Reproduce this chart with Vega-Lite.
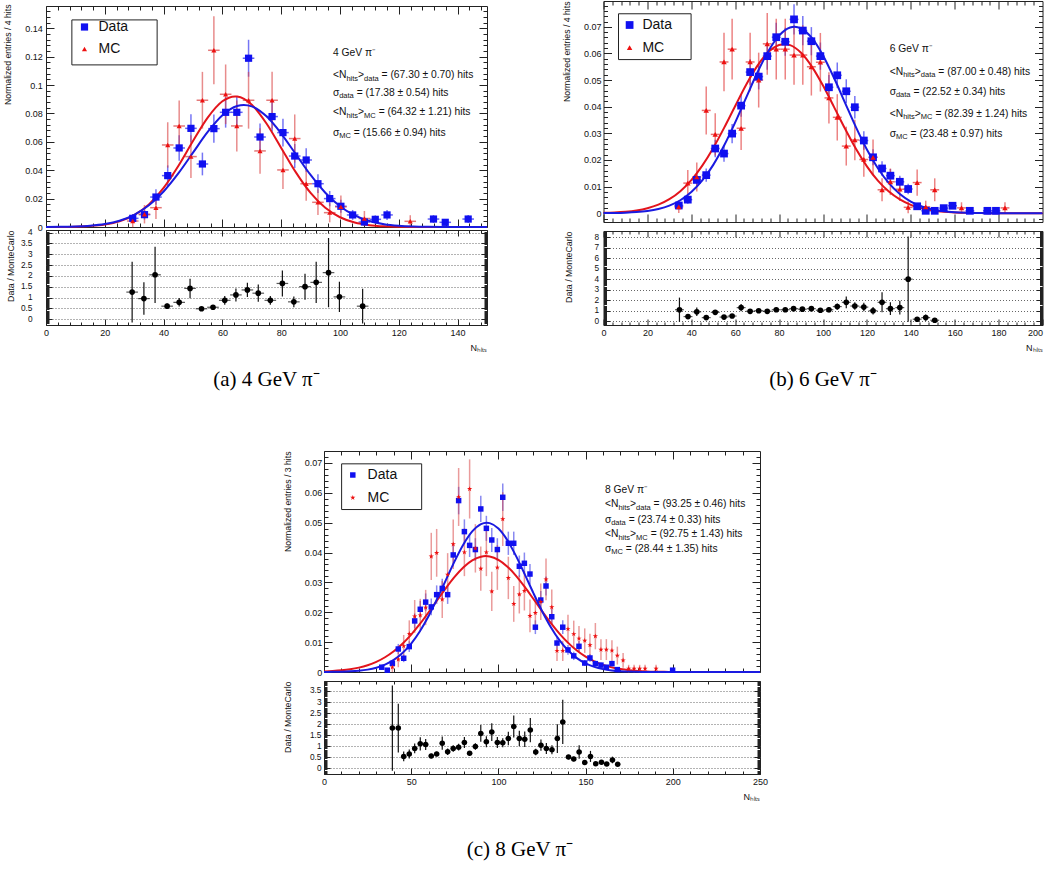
{
"$schema":"https://vega.github.io/schema/vega-lite/v6.json",
"background":"white",
"padding":{"left":2,"top":0,"right":0,"bottom":0},
"config":{
 "view":{"stroke":"#222","strokeWidth":1},
 "axis":{"labelFont":"Liberation Sans","titleFont":"Liberation Sans","labelColor":"#111","titleColor":"#111","tickColor":"#222","labelFontSize":9,"titleFontWeight":"normal","labelFlush":false,"labelOverlap":false,"domain":false,"grid":false,"tickWidth":1},
 "text":{"font":"Liberation Sans","fontSize":10.3,"align":"left","baseline":"middle","color":"#111"},
 "legend":{"labelFont":"Liberation Sans","labelFontSize":14,"labelColor":"#111"},
 "title":{"font":"Liberation Serif","fontSize":21,"fontWeight":"normal","color":"#000"}
},
"datasets":{
"aPts":[
{"s":"Data","x":29.5,"y":0.0061,"e":0.003},{"s":"Data","x":33.5,"y":0.0087,"e":0.0035},{"s":"Data","x":37.4,"y":0.0211,"e":0.0055},{"s":"Data","x":41.4,"y":0.0362,"e":0.0072},{"s":"Data","x":45.3,"y":0.0557,"e":0.009},{"s":"Data","x":49.3,"y":0.0695,"e":0.01},{"s":"Data","x":53.2,"y":0.0444,"e":0.008},{"s":"Data","x":57.1,"y":0.0693,"e":0.01},{"s":"Data","x":61.1,"y":0.0808,"e":0.0108},{"s":"Data","x":64.9,"y":0.0808,"e":0.0108},{"s":"Data","x":68.9,"y":0.1189,"e":0.013},{"s":"Data","x":72.8,"y":0.0634,"e":0.0096},{"s":"Data","x":76.9,"y":0.0778,"e":0.0106},{"s":"Data","x":80.6,"y":0.0665,"e":0.0098},{"s":"Data","x":84.6,"y":0.05,"e":0.0085},{"s":"Data","x":88.5,"y":0.0472,"e":0.0083},{"s":"Data","x":92.5,"y":0.0305,"e":0.0066},{"s":"Data","x":96.5,"y":0.02,"e":0.0054},{"s":"Data","x":100.3,"y":0.0146,"e":0.0046},{"s":"Data","x":104.3,"y":0.0085,"e":0.0035},{"s":"Data","x":108.3,"y":0.0035,"e":0.0022},{"s":"Data","x":112.0,"y":0.0054,"e":0.0028},{"s":"Data","x":116.0,"y":0.0085,"e":0.0035},{"s":"Data","x":131.8,"y":0.0056,"e":0.0028},{"s":"Data","x":135.8,"y":0.0033,"e":0.0022},{"s":"Data","x":143.6,"y":0.0056,"e":0.0028},
{"s":"MC","x":29.5,"y":0.0042,"e":0.0044},{"s":"MC","x":33.5,"y":0.009,"e":0.0065},{"s":"MC","x":37.4,"y":0.0136,"e":0.008},{"s":"MC","x":41.4,"y":0.0578,"e":0.016},{"s":"MC","x":45.3,"y":0.0712,"e":0.018},{"s":"MC","x":49.3,"y":0.0496,"e":0.015},{"s":"MC","x":53.2,"y":0.0893,"e":0.02},{"s":"MC","x":57.1,"y":0.1245,"e":0.024},{"s":"MC","x":61.1,"y":0.0935,"e":0.021},{"s":"MC","x":64.9,"y":0.0712,"e":0.018},{"s":"MC","x":68.9,"y":0.0893,"e":0.02},{"s":"MC","x":72.8,"y":0.0536,"e":0.016},{"s":"MC","x":76.9,"y":0.0893,"e":0.02},{"s":"MC","x":80.6,"y":0.0402,"e":0.0135},{"s":"MC","x":84.6,"y":0.0623,"e":0.017},{"s":"MC","x":88.5,"y":0.0305,"e":0.012},{"s":"MC","x":92.5,"y":0.0174,"e":0.009},{"s":"MC","x":96.5,"y":0.0101,"e":0.0068},{"s":"MC","x":100.3,"y":0.0142,"e":0.008},{"s":"MC","x":108.3,"y":0.006,"e":0.0053},{"s":"MC","x":123.9,"y":0.004,"e":0.0043}
],
"aFit":[
{"s":"Data","x":0,"y":0.00005},{"s":"Data","x":5,"y":0.00014},{"s":"Data","x":10,"y":0.00038},{"s":"Data","x":15,"y":0.00093},{"s":"Data","x":20,"y":0.00212},{"s":"Data","x":25,"y":0.00445},{"s":"Data","x":30,"y":0.00859},{"s":"Data","x":35,"y":0.01529},{"s":"Data","x":40,"y":0.02504},{"s":"Data","x":45,"y":0.03776},{"s":"Data","x":50,"y":0.0524},{"s":"Data","x":55,"y":0.06695},{"s":"Data","x":60,"y":0.07874},{"s":"Data","x":65,"y":0.08525},{"s":"Data","x":67.3,"y":0.086},{"s":"Data","x":70,"y":0.08497},{"s":"Data","x":75,"y":0.07797},{"s":"Data","x":80,"y":0.06585},{"s":"Data","x":85,"y":0.0512},{"s":"Data","x":90,"y":0.03665},{"s":"Data","x":95,"y":0.02415},{"s":"Data","x":100,"y":0.01465},{"s":"Data","x":105,"y":0.00818},{"s":"Data","x":110,"y":0.00421},{"s":"Data","x":115,"y":0.00199},{"s":"Data","x":120,"y":0.00087},{"s":"Data","x":125,"y":0.00035},{"s":"Data","x":130,"y":0.00013},{"s":"Data","x":135,"y":0.00004},{"s":"Data","x":140,"y":0.00001},{"s":"Data","x":145,"y":0},{"s":"Data","x":150,"y":0},
{"s":"MC","x":0,"y":0.00002},{"s":"MC","x":5,"y":0.00007},{"s":"MC","x":10,"y":0.00022},{"s":"MC","x":15,"y":0.00065},{"s":"MC","x":20,"y":0.00168},{"s":"MC","x":25,"y":0.00393},{"s":"MC","x":30,"y":0.00833},{"s":"MC","x":35,"y":0.01594},{"s":"MC","x":40,"y":0.02754},{"s":"MC","x":45,"y":0.04298},{"s":"MC","x":50,"y":0.06056},{"s":"MC","x":55,"y":0.07707},{"s":"MC","x":60,"y":0.08857},{"s":"MC","x":64.3,"y":0.092},{"s":"MC","x":65,"y":0.09191},{"s":"MC","x":70,"y":0.08614},{"s":"MC","x":75,"y":0.07291},{"s":"MC","x":80,"y":0.05573},{"s":"MC","x":85,"y":0.03846},{"s":"MC","x":90,"y":0.02398},{"s":"MC","x":95,"y":0.0135},{"s":"MC","x":100,"y":0.00687},{"s":"MC","x":105,"y":0.00315},{"s":"MC","x":110,"y":0.00131},{"s":"MC","x":115,"y":0.00049},{"s":"MC","x":120,"y":0.00017},{"s":"MC","x":125,"y":0.00005},{"s":"MC","x":130,"y":0.00001},{"s":"MC","x":140,"y":0},{"s":"MC","x":150,"y":0}
],
"aRat":[
{"x":29.3,"r":1.25,"e":1.4},{"x":33.3,"r":0.95,"e":0.75},{"x":37.1,"r":2.05,"e":1.3},{"x":41.2,"r":0.6,"e":0.12},{"x":45.3,"r":0.78,"e":0.2},{"x":49.0,"r":1.42,"e":0.45},{"x":52.9,"r":0.48,"e":0.08},{"x":56.8,"r":0.55,"e":0.08},{"x":60.8,"r":0.87,"e":0.2},{"x":64.6,"r":1.12,"e":0.3},{"x":68.5,"r":1.35,"e":0.33},{"x":72.2,"r":1.2,"e":0.4},{"x":76.3,"r":0.87,"e":0.2},{"x":80.4,"r":1.65,"e":0.6},{"x":84.3,"r":0.8,"e":0.25},{"x":88.1,"r":1.5,"e":0.6},{"x":91.9,"r":1.7,"e":0.95},{"x":96.1,"r":2.15,"e":1.6},{"x":99.8,"r":1.03,"e":0.7},{"x":107.7,"r":0.6,"e":0.8}
],
"bPts":[
{"s":"Data","x":34.3,"y":0.0029,"e":0.0011},{"s":"Data","x":38.4,"y":0.0051,"e":0.0015},{"s":"Data","x":42.5,"y":0.0125,"e":0.0023},{"s":"Data","x":46.8,"y":0.0143,"e":0.0025},{"s":"Data","x":50.9,"y":0.0243,"e":0.0033},{"s":"Data","x":54.9,"y":0.0224,"e":0.0031},{"s":"Data","x":58.6,"y":0.0299,"e":0.0036},{"s":"Data","x":62.7,"y":0.0404,"e":0.0042},{"s":"Data","x":66.8,"y":0.053,"e":0.0048},{"s":"Data","x":70.7,"y":0.0513,"e":0.0048},{"s":"Data","x":74.6,"y":0.059,"e":0.0051},{"s":"Data","x":78.7,"y":0.0661,"e":0.0054},{"s":"Data","x":82.8,"y":0.0644,"e":0.0053},{"s":"Data","x":86.8,"y":0.0728,"e":0.0057},{"s":"Data","x":90.8,"y":0.0686,"e":0.0055},{"s":"Data","x":94.7,"y":0.0646,"e":0.0053},{"s":"Data","x":98.8,"y":0.059,"e":0.0051},{"s":"Data","x":102.7,"y":0.0473,"e":0.0046},{"s":"Data","x":106.5,"y":0.0518,"e":0.0048},{"s":"Data","x":110.6,"y":0.0458,"e":0.0045},{"s":"Data","x":114.5,"y":0.0398,"e":0.0042},{"s":"Data","x":118.6,"y":0.0273,"e":0.0035},{"s":"Data","x":122.8,"y":0.021,"e":0.003},{"s":"Data","x":126.9,"y":0.0168,"e":0.0027},{"s":"Data","x":130.7,"y":0.0141,"e":0.0025},{"s":"Data","x":135.0,"y":0.0118,"e":0.0023},{"s":"Data","x":138.8,"y":0.0091,"e":0.002},{"s":"Data","x":142.9,"y":0.0026,"e":0.0011},{"s":"Data","x":146.8,"y":0.0009,"e":0.0006},{"s":"Data","x":150.9,"y":0.0009,"e":0.0006},{"s":"Data","x":155.0,"y":0.0019,"e":0.0009},{"s":"Data","x":159.0,"y":0.0028,"e":0.0011},{"s":"Data","x":166.9,"y":0.0009,"e":0.0006},{"s":"Data","x":174.9,"y":0.0009,"e":0.0006},{"s":"Data","x":178.8,"y":0.0009,"e":0.0006},
{"s":"MC","x":34.3,"y":0.0024,"e":0.0023},{"s":"MC","x":38.4,"y":0.0113,"e":0.0049},{"s":"MC","x":42.5,"y":0.0136,"e":0.0054},{"s":"MC","x":46.8,"y":0.0386,"e":0.009},{"s":"MC","x":50.9,"y":0.0296,"e":0.0079},{"s":"MC","x":54.9,"y":0.0568,"e":0.011},{"s":"MC","x":58.6,"y":0.0616,"e":0.0114},{"s":"MC","x":62.7,"y":0.0319,"e":0.0082},{"s":"MC","x":66.8,"y":0.0568,"e":0.011},{"s":"MC","x":70.7,"y":0.05,"e":0.0103},{"s":"MC","x":74.6,"y":0.0636,"e":0.0116},{"s":"MC","x":78.7,"y":0.0616,"e":0.0114},{"s":"MC","x":82.8,"y":0.0616,"e":0.0114},{"s":"MC","x":86.8,"y":0.0594,"e":0.0112},{"s":"MC","x":90.8,"y":0.0594,"e":0.0112},{"s":"MC","x":94.7,"y":0.055,"e":0.0108},{"s":"MC","x":98.8,"y":0.0567,"e":0.011},{"s":"MC","x":102.7,"y":0.0433,"e":0.0096},{"s":"MC","x":106.5,"y":0.036,"e":0.0087},{"s":"MC","x":110.6,"y":0.0252,"e":0.0073},{"s":"MC","x":114.5,"y":0.0275,"e":0.0076},{"s":"MC","x":118.6,"y":0.0202,"e":0.0065},{"s":"MC","x":122.8,"y":0.021,"e":0.0067},{"s":"MC","x":126.9,"y":0.0088,"e":0.0043},{"s":"MC","x":130.7,"y":0.0118,"e":0.005},{"s":"MC","x":135.0,"y":0.009,"e":0.0044},{"s":"MC","x":138.8,"y":0.0022,"e":0.0022},{"s":"MC","x":142.9,"y":0.0115,"e":0.0049},{"s":"MC","x":146.8,"y":0.0024,"e":0.0023},{"s":"MC","x":150.9,"y":0.0088,"e":0.0043},{"s":"MC","x":163.1,"y":0.002,"e":0.0021},{"s":"MC","x":182.9,"y":0.002,"e":0.0021}
],
"bFit":[
{"s":"Data","x":0,"y":0.00004},{"s":"Data","x":5,"y":0.00009},{"s":"Data","x":10,"y":0.0002},{"s":"Data","x":15,"y":0.00042},{"s":"Data","x":20,"y":0.00084},{"s":"Data","x":25,"y":0.00158},{"s":"Data","x":30,"y":0.00284},{"s":"Data","x":35,"y":0.00487},{"s":"Data","x":40,"y":0.00793},{"s":"Data","x":45,"y":0.0123},{"s":"Data","x":50,"y":0.01815},{"s":"Data","x":55,"y":0.0255},{"s":"Data","x":60,"y":0.03412},{"s":"Data","x":65,"y":0.04344},{"s":"Data","x":70,"y":0.05264},{"s":"Data","x":75,"y":0.06073},{"s":"Data","x":80,"y":0.0667},{"s":"Data","x":85,"y":0.06973},{"s":"Data","x":87,"y":0.07},{"s":"Data","x":90,"y":0.06938},{"s":"Data","x":95,"y":0.06572},{"s":"Data","x":100,"y":0.05925},{"s":"Data","x":105,"y":0.05086},{"s":"Data","x":110,"y":0.04155},{"s":"Data","x":115,"y":0.03232},{"s":"Data","x":120,"y":0.02393},{"s":"Data","x":125,"y":0.01686},{"s":"Data","x":130,"y":0.0113},{"s":"Data","x":135,"y":0.00722},{"s":"Data","x":140,"y":0.00439},{"s":"Data","x":145,"y":0.00254},{"s":"Data","x":150,"y":0.0014},{"s":"Data","x":155,"y":0.00073},{"s":"Data","x":160,"y":0.00037},{"s":"Data","x":165,"y":0.00017},{"s":"Data","x":170,"y":0.00008},{"s":"Data","x":175,"y":0.00003},{"s":"Data","x":180,"y":0.00001},{"s":"Data","x":190,"y":0},{"s":"Data","x":200,"y":0},
{"s":"MC","x":0,"y":0.00013},{"s":"MC","x":5,"y":0.00028},{"s":"MC","x":10,"y":0.00055},{"s":"MC","x":15,"y":0.00103},{"s":"MC","x":20,"y":0.00186},{"s":"MC","x":25,"y":0.0032},{"s":"MC","x":30,"y":0.00527},{"s":"MC","x":35,"y":0.00829},{"s":"MC","x":40,"y":0.01245},{"s":"MC","x":45,"y":0.01788},{"s":"MC","x":50,"y":0.02451},{"s":"MC","x":55,"y":0.03214},{"s":"MC","x":60,"y":0.04028},{"s":"MC","x":65,"y":0.04826},{"s":"MC","x":70,"y":0.05524},{"s":"MC","x":75,"y":0.06042},{"s":"MC","x":80,"y":0.06317},{"s":"MC","x":82.4,"y":0.0635},{"s":"MC","x":85,"y":0.06311},{"s":"MC","x":90,"y":0.06025},{"s":"MC","x":95,"y":0.05497},{"s":"MC","x":100,"y":0.04793},{"s":"MC","x":105,"y":0.03994},{"s":"MC","x":110,"y":0.0318},{"s":"MC","x":115,"y":0.02419},{"s":"MC","x":120,"y":0.0176},{"s":"MC","x":125,"y":0.01222},{"s":"MC","x":130,"y":0.00812},{"s":"MC","x":135,"y":0.00516},{"s":"MC","x":140,"y":0.00313},{"s":"MC","x":145,"y":0.00181},{"s":"MC","x":150,"y":0.001},{"s":"MC","x":155,"y":0.00053},{"s":"MC","x":160,"y":0.00027},{"s":"MC","x":165,"y":0.00013},{"s":"MC","x":170,"y":0.00006},{"s":"MC","x":175,"y":0.00003},{"s":"MC","x":180,"y":0.00001},{"s":"MC","x":190,"y":0},{"s":"MC","x":200,"y":0}
],
"bRat":[
{"x":34.6,"r":1.1,"e":1.15},{"x":38.5,"r":0.45,"e":0.15},{"x":42.5,"r":0.9,"e":0.4},{"x":46.8,"r":0.35,"e":0.1},{"x":50.9,"r":0.85,"e":0.2},{"x":54.9,"r":0.4,"e":0.1},{"x":58.6,"r":0.5,"e":0.15},{"x":62.7,"r":1.3,"e":0.35},{"x":66.8,"r":0.95,"e":0.15},{"x":70.7,"r":1.0,"e":0.15},{"x":74.6,"r":0.95,"e":0.15},{"x":78.7,"r":1.1,"e":0.2},{"x":82.8,"r":1.1,"e":0.15},{"x":86.6,"r":1.2,"e":0.2},{"x":90.6,"r":1.15,"e":0.2},{"x":94.7,"r":1.2,"e":0.2},{"x":98.8,"r":1.05,"e":0.2},{"x":102.7,"r":1.1,"e":0.25},{"x":106.5,"r":1.4,"e":0.3},{"x":110.6,"r":1.8,"e":0.55},{"x":114.5,"r":1.45,"e":0.35},{"x":118.6,"r":1.35,"e":0.4},{"x":122.8,"r":1.0,"e":0.35},{"x":126.9,"r":1.8,"e":0.95},{"x":130.7,"r":1.2,"e":0.6},{"x":135.0,"r":1.3,"e":0.65},{"x":138.8,"r":4.0,"e":4.05},{"x":142.9,"r":0.2,"e":0.15},{"x":146.8,"r":0.35,"e":0.3},{"x":150.9,"r":0.1,"e":0.1}
],
"cPts":[
{"s":"Data","x":33.1,"y":0.0016,"e":0.0008},{"s":"Data","x":36.3,"y":0.0006,"e":0.0005},{"s":"Data","x":39.2,"y":0.0029,"e":0.001},{"s":"Data","x":42.6,"y":0.0077,"e":0.0017},{"s":"Data","x":45.7,"y":0.0046,"e":0.0013},{"s":"Data","x":48.9,"y":0.0085,"e":0.0018},{"s":"Data","x":52.0,"y":0.0171,"e":0.0025},{"s":"Data","x":55.2,"y":0.021,"e":0.0028},{"s":"Data","x":58.3,"y":0.0234,"e":0.0029},{"s":"Data","x":61.5,"y":0.0218,"e":0.0028},{"s":"Data","x":64.6,"y":0.0259,"e":0.0031},{"s":"Data","x":67.8,"y":0.028,"e":0.0032},{"s":"Data","x":70.9,"y":0.0259,"e":0.0031},{"s":"Data","x":74.1,"y":0.0392,"e":0.0038},{"s":"Data","x":77.2,"y":0.0574,"e":0.0046},{"s":"Data","x":80.5,"y":0.047,"e":0.0041},{"s":"Data","x":83.5,"y":0.0424,"e":0.0039},{"s":"Data","x":86.8,"y":0.041,"e":0.0038},{"s":"Data","x":89.9,"y":0.0546,"e":0.0044},{"s":"Data","x":93.1,"y":0.0481,"e":0.0042},{"s":"Data","x":96.2,"y":0.0442,"e":0.004},{"s":"Data","x":99.4,"y":0.041,"e":0.0038},{"s":"Data","x":102.5,"y":0.0585,"e":0.0046},{"s":"Data","x":105.7,"y":0.0431,"e":0.0039},{"s":"Data","x":108.8,"y":0.0431,"e":0.0039},{"s":"Data","x":112.0,"y":0.0354,"e":0.0036},{"s":"Data","x":114.9,"y":0.0364,"e":0.0036},{"s":"Data","x":118.1,"y":0.0328,"e":0.0034},{"s":"Data","x":121.2,"y":0.015,"e":0.0023},{"s":"Data","x":124.3,"y":0.0241,"e":0.003},{"s":"Data","x":127.3,"y":0.0288,"e":0.0032},{"s":"Data","x":130.6,"y":0.0185,"e":0.0026},{"s":"Data","x":133.6,"y":0.0097,"e":0.0019},{"s":"Data","x":136.9,"y":0.015,"e":0.0023},{"s":"Data","x":139.9,"y":0.0074,"e":0.0016},{"s":"Data","x":143.2,"y":0.0054,"e":0.0014},{"s":"Data","x":146.2,"y":0.0086,"e":0.0018},{"s":"Data","x":149.5,"y":0.003,"e":0.001},{"s":"Data","x":152.5,"y":0.0047,"e":0.0013},{"s":"Data","x":155.6,"y":0.0028,"e":0.001},{"s":"Data","x":158.8,"y":0.0023,"e":0.0009},{"s":"Data","x":161.9,"y":0.0016,"e":0.0008},{"s":"Data","x":165.1,"y":0.0028,"e":0.001},{"s":"Data","x":168.2,"y":0.0008,"e":0.0005},{"s":"Data","x":199.9,"y":0.0006,"e":0.0005},
{"s":"MC","x":39.2,"y":0.0016,"e":0.0016},{"s":"MC","x":42.6,"y":0.0042,"e":0.0026},{"s":"MC","x":45.7,"y":0.0087,"e":0.0037},{"s":"MC","x":48.9,"y":0.0128,"e":0.0045},{"s":"MC","x":52.0,"y":0.0186,"e":0.0055},{"s":"MC","x":55.2,"y":0.019,"e":0.0055},{"s":"MC","x":58.3,"y":0.0216,"e":0.0059},{"s":"MC","x":61.5,"y":0.0387,"e":0.0079},{"s":"MC","x":64.6,"y":0.0399,"e":0.008},{"s":"MC","x":67.8,"y":0.0243,"e":0.0062},{"s":"MC","x":70.9,"y":0.0326,"e":0.0072},{"s":"MC","x":74.1,"y":0.0428,"e":0.0083},{"s":"MC","x":77.2,"y":0.0586,"e":0.0097},{"s":"MC","x":80.5,"y":0.0401,"e":0.008},{"s":"MC","x":83.5,"y":0.0613,"e":0.0099},{"s":"MC","x":86.8,"y":0.0414,"e":0.0081},{"s":"MC","x":89.9,"y":0.0346,"e":0.0074},{"s":"MC","x":93.1,"y":0.0401,"e":0.008},{"s":"MC","x":96.2,"y":0.027,"e":0.0066},{"s":"MC","x":99.4,"y":0.035,"e":0.0075},{"s":"MC","x":102.5,"y":0.0512,"e":0.009},{"s":"MC","x":105.7,"y":0.0315,"e":0.0071},{"s":"MC","x":108.8,"y":0.0228,"e":0.006},{"s":"MC","x":112.0,"y":0.026,"e":0.0064},{"s":"MC","x":114.9,"y":0.0272,"e":0.0066},{"s":"MC","x":118.1,"y":0.0188,"e":0.0055},{"s":"MC","x":121.2,"y":0.0198,"e":0.0056},{"s":"MC","x":124.3,"y":0.0235,"e":0.0061},{"s":"MC","x":127.3,"y":0.031,"e":0.007},{"s":"MC","x":130.6,"y":0.0217,"e":0.0059},{"s":"MC","x":133.6,"y":0.0071,"e":0.0034},{"s":"MC","x":136.9,"y":0.0071,"e":0.0034},{"s":"MC","x":139.9,"y":0.0144,"e":0.0048},{"s":"MC","x":143.2,"y":0.0127,"e":0.0045},{"s":"MC","x":146.2,"y":0.0112,"e":0.0042},{"s":"MC","x":149.5,"y":0.0105,"e":0.0041},{"s":"MC","x":152.5,"y":0.009,"e":0.0038},{"s":"MC","x":155.6,"y":0.012,"e":0.0044},{"s":"MC","x":158.8,"y":0.0075,"e":0.0035},{"s":"MC","x":161.9,"y":0.0075,"e":0.0035},{"s":"MC","x":165.1,"y":0.0072,"e":0.0034},{"s":"MC","x":168.2,"y":0.0055,"e":0.003},{"s":"MC","x":171.5,"y":0.0039,"e":0.0025},{"s":"MC","x":174.7,"y":0.0011,"e":0.0013},{"s":"MC","x":177.8,"y":0.0011,"e":0.0013},{"s":"MC","x":181.0,"y":0.0011,"e":0.0013},{"s":"MC","x":184.1,"y":0.0011,"e":0.0013},{"s":"MC","x":190.4,"y":0.0011,"e":0.0013}
],
"cFit":[
{"s":"Data","x":0,"y":0.00002},{"s":"Data","x":5,"y":0.00005},{"s":"Data","x":10,"y":0.00011},{"s":"Data","x":15,"y":0.00022},{"s":"Data","x":20,"y":0.00043},{"s":"Data","x":25,"y":0.0008},{"s":"Data","x":30,"y":0.00144},{"s":"Data","x":35,"y":0.00246},{"s":"Data","x":40,"y":0.00404},{"s":"Data","x":45,"y":0.00634},{"s":"Data","x":50,"y":0.00951},{"s":"Data","x":55,"y":0.01366},{"s":"Data","x":60,"y":0.01874},{"s":"Data","x":65,"y":0.02463},{"s":"Data","x":70,"y":0.03095},{"s":"Data","x":75,"y":0.03721},{"s":"Data","x":80,"y":0.04279},{"s":"Data","x":85,"y":0.04707},{"s":"Data","x":90,"y":0.04953},{"s":"Data","x":93.25,"y":0.05},{"s":"Data","x":95,"y":0.04986},{"s":"Data","x":100,"y":0.04802},{"s":"Data","x":105,"y":0.04424},{"s":"Data","x":110,"y":0.03898},{"s":"Data","x":115,"y":0.03287},{"s":"Data","x":120,"y":0.0265},{"s":"Data","x":125,"y":0.02045},{"s":"Data","x":130,"y":0.01509},{"s":"Data","x":135,"y":0.01065},{"s":"Data","x":140,"y":0.00719},{"s":"Data","x":145,"y":0.00465},{"s":"Data","x":150,"y":0.00287},{"s":"Data","x":155,"y":0.0017},{"s":"Data","x":160,"y":0.00096},{"s":"Data","x":165,"y":0.00052},{"s":"Data","x":170,"y":0.00027},{"s":"Data","x":175,"y":0.00013},{"s":"Data","x":180,"y":0.00006},{"s":"Data","x":185,"y":0.00003},{"s":"Data","x":190,"y":0.00001},{"s":"Data","x":200,"y":0},{"s":"Data","x":250,"y":0},
{"s":"MC","x":0,"y":0.00019},{"s":"MC","x":5,"y":0.00033},{"s":"MC","x":10,"y":0.00056},{"s":"MC","x":15,"y":0.00092},{"s":"MC","x":20,"y":0.00147},{"s":"MC","x":25,"y":0.00227},{"s":"MC","x":30,"y":0.0034},{"s":"MC","x":35,"y":0.00494},{"s":"MC","x":40,"y":0.00694},{"s":"MC","x":45,"y":0.00948},{"s":"MC","x":50,"y":0.01253},{"s":"MC","x":55,"y":0.01608},{"s":"MC","x":60,"y":0.02},{"s":"MC","x":65,"y":0.02411},{"s":"MC","x":70,"y":0.02818},{"s":"MC","x":75,"y":0.03193},{"s":"MC","x":80,"y":0.03509},{"s":"MC","x":85,"y":0.03739},{"s":"MC","x":90,"y":0.03862},{"s":"MC","x":92.75,"y":0.0388},{"s":"MC","x":95,"y":0.03868},{"s":"MC","x":100,"y":0.03756},{"s":"MC","x":105,"y":0.03536},{"s":"MC","x":110,"y":0.03228},{"s":"MC","x":115,"y":0.02857},{"s":"MC","x":120,"y":0.02452},{"s":"MC","x":125,"y":0.0204},{"s":"MC","x":130,"y":0.01646},{"s":"MC","x":135,"y":0.01287},{"s":"MC","x":140,"y":0.00976},{"s":"MC","x":145,"y":0.00717},{"s":"MC","x":150,"y":0.00512},{"s":"MC","x":155,"y":0.00353},{"s":"MC","x":160,"y":0.00237},{"s":"MC","x":165,"y":0.00154},{"s":"MC","x":170,"y":0.00097},{"s":"MC","x":175,"y":0.00059},{"s":"MC","x":180,"y":0.00035},{"s":"MC","x":185,"y":0.0002},{"s":"MC","x":190,"y":0.00011},{"s":"MC","x":195,"y":0.00006},{"s":"MC","x":200,"y":0.00003},{"s":"MC","x":210,"y":0.00001},{"s":"MC","x":220,"y":0},{"s":"MC","x":250,"y":0}
],
"cRat":[
{"x":39.2,"r":1.82,"e":1.93},{"x":42.6,"r":1.82,"e":1.1},{"x":45.7,"r":0.54,"e":0.22},{"x":48.9,"r":0.65,"e":0.2},{"x":52.0,"r":0.9,"e":0.22},{"x":55.2,"r":1.11,"e":0.3},{"x":58.3,"r":1.08,"e":0.25},{"x":61.5,"r":0.56,"e":0.1},{"x":64.6,"r":0.65,"e":0.1},{"x":67.8,"r":1.14,"e":0.3},{"x":70.9,"r":0.75,"e":0.15},{"x":74.1,"r":0.9,"e":0.15},{"x":77.2,"r":0.96,"e":0.15},{"x":80.5,"r":1.17,"e":0.25},{"x":83.5,"r":0.68,"e":0.1},{"x":86.8,"r":0.99,"e":0.15},{"x":89.9,"r":1.58,"e":0.38},{"x":93.1,"r":1.2,"e":0.25},{"x":96.2,"r":1.64,"e":0.4},{"x":99.4,"r":1.17,"e":0.25},{"x":102.5,"r":1.16,"e":0.2},{"x":105.7,"r":1.35,"e":0.3},{"x":108.8,"r":1.89,"e":0.5},{"x":112.0,"r":1.35,"e":0.35},{"x":115.1,"r":1.32,"e":0.35},{"x":118.3,"r":1.73,"e":0.55},{"x":121.4,"r":0.74,"e":0.15},{"x":124.4,"r":1.05,"e":0.25},{"x":127.5,"r":0.9,"e":0.25},{"x":130.7,"r":0.84,"e":0.2},{"x":133.8,"r":1.35,"e":0.65},{"x":136.9,"r":2.1,"e":1.0},{"x":140.2,"r":0.51,"e":0.1},{"x":143.2,"r":0.42,"e":0.1},{"x":146.3,"r":0.74,"e":0.3},{"x":149.5,"r":0.26,"e":0.1},{"x":152.8,"r":0.54,"e":0.25},{"x":155.8,"r":0.21,"e":0.08},{"x":159.1,"r":0.28,"e":0.1},{"x":162.1,"r":0.2,"e":0.08},{"x":165.4,"r":0.38,"e":0.15},{"x":168.4,"r":0.19,"e":0.07}
]
},
"resolve":{"scale":{"color":"independent","shape":"independent","size":"independent"}},
"concat":[
{"resolve":{"scale":{"color":"independent","shape":"independent","size":"independent"}},
 "concat":[
 {"vconcat":[
  {"width":441,"height":2,"data":{"values":[]},"mark":"point","view":{"stroke":null}},
  {"width":441,"height":221,"resolve":{"axis":{"x":"independent","y":"independent"}},
   "layer":[
    {"data":{"name":"aPts"},"transform":[{"filter":"datum.s === 'Data'"}],"mark":{"type":"errorbar","color":"#3a3af0","opacity":0.7,"thickness":1.5},"encoding":{"x":{"field":"x","type":"quantitative","axis":null},"y":{"field":"y","type":"quantitative","axis":null},"yError":{"field":"e"}}},
    {"data":{"name":"aPts"},"transform":[{"filter":"datum.s === 'MC'"}],"mark":{"type":"errorbar","color":"#d84040","opacity":0.6,"thickness":1.5},"encoding":{"x":{"field":"x","type":"quantitative","axis":null},"y":{"field":"y","type":"quantitative","axis":null},"yError":{"field":"e"}}},
    {"data":{"name":"aPts"},"transform":[{"filter":"datum.s === 'Data'"}],"mark":{"type":"tick","orient":"horizontal","size":11.6,"thickness":1.5,"color":"#3a3af0","opacity":0.8},"encoding":{"x":{"field":"x","type":"quantitative","axis":null},"y":{"field":"y","type":"quantitative","axis":null}}},
    {"data":{"name":"aPts"},"transform":[{"filter":"datum.s === 'MC'"}],"mark":{"type":"tick","orient":"horizontal","size":11.6,"thickness":1.5,"color":"#d84040","opacity":0.7},"encoding":{"x":{"field":"x","type":"quantitative","axis":null},"y":{"field":"y","type":"quantitative","axis":null}}},
    {"data":{"name":"aFit"},"transform":[{"filter":"datum.s === 'MC'"}],"mark":{"type":"line","color":"#e3141c","strokeWidth":2,"interpolate":"monotone"},"encoding":{"x":{"field":"x","type":"quantitative","axis":{"orient":"top","values":[0,4,8,12,16,20,24,28,32,36,40,44,48,52,56,60,64,68,72,76,80,84,88,92,96,100,104,108,112,116,120,124,128,132,136,140,144,148],"labels":false,"title":null,"tickSize":{"condition":{"test":"datum.value % 20 === 0","value":-8},"value":-4}}},"y":{"field":"y","type":"quantitative","axis":{"orient":"right","values":[0,0.004,0.008,0.012,0.016,0.02,0.024,0.028,0.032,0.036,0.04,0.044,0.048,0.052,0.056,0.06,0.064,0.068,0.072,0.076,0.08,0.084,0.088,0.092,0.096,0.1,0.104,0.108,0.112,0.116,0.12,0.124,0.128,0.132,0.136,0.14,0.144,0.148,0.152],"labels":false,"title":null,"tickSize":{"condition":{"test":"abs(datum.value*50-round(datum.value*50))<0.01","value":-8},"value":-4}}}}},
    {"data":{"name":"aFit"},"transform":[{"filter":"datum.s === 'Data'"}],"mark":{"type":"line","color":"#1a1ae0","strokeWidth":2,"interpolate":"monotone"},"encoding":{"x":{"field":"x","type":"quantitative","axis":null},"y":{"field":"y","type":"quantitative","axis":null}}},
    {"data":{"name":"aPts"},"mark":{"type":"point","filled":true,"opacity":1},"encoding":{
      "x":{"field":"x","type":"quantitative","scale":{"domain":[0,150],"nice":false,"zero":false},"axis":{"orient":"bottom","values":[0,4,8,12,16,20,24,28,32,36,40,44,48,52,56,60,64,68,72,76,80,84,88,92,96,100,104,108,112,116,120,124,128,132,136,140,144,148],"labels":false,"title":null,"tickSize":{"condition":{"test":"datum.value % 20 === 0","value":-8},"value":-4}}},
      "y":{"field":"y","type":"quantitative","scale":{"domain":[0,0.1557],"nice":false,"zero":false},"axis":{"orient":"left","values":[0,0.004,0.008,0.012,0.016,0.02,0.024,0.028,0.032,0.036,0.04,0.044,0.048,0.052,0.056,0.06,0.064,0.068,0.072,0.076,0.08,0.084,0.088,0.092,0.096,0.1,0.104,0.108,0.112,0.116,0.12,0.124,0.128,0.132,0.136,0.14,0.144,0.148,0.152],"tickSize":{"condition":{"test":"abs(datum.value*50-round(datum.value*50))<0.01","value":-8},"value":-4},"labelExpr":"abs(datum.value*50-round(datum.value*50))<0.01 ? format(datum.value,'~g') : ''","labelPadding":11.7,"title":"Normalized entries / 4 hits","titleFontSize":8.7,"titleAnchor":"end","titlePadding":12.5,"titleY":-2}},
      "size":{"field":"s","type":"ordinal","scale":{"domain":["Data","MC"],"range":[52,26]},"legend":null},
      "color":{"field":"s","type":"nominal","scale":{"domain":["Data","MC"],"range":["#1010f0","#ee1010"]},"legend":{"orient":"none","legendX":31.5,"legendY":19,"title":null,"symbolSize":70,"padding":0,"rowPadding":8,"labelOffset":7,"strokeColor":null,"fillColor":null}},
      "shape":{"field":"s","type":"nominal","scale":{"domain":["Data","MC"],"range":["square","triangle-up"]},"legend":{"orient":"none","legendX":31.5,"legendY":19,"title":null,"symbolSize":70,"padding":0,"rowPadding":8,"labelOffset":7,"strokeColor":null,"fillColor":null}}}},
    {"data":{"values":[{}]},"mark":{"type":"rect","fill":"white","stroke":"#222","strokeWidth":1},"encoding":{"x":{"datum":8.8,"type":"quantitative","axis":null},"x2":{"datum":37.8},"y":{"datum":0.1459,"type":"quantitative","axis":null},"y2":{"datum":0.1142}}},
    {"data":{"values":[{"t":"4 GeV π⁻"}]},"mark":{"type":"text"},"encoding":{"x":{"datum":97.6,"type":"quantitative","axis":null},"y":{"datum":0.1228,"type":"quantitative","axis":null},"text":{"field":"t"}}},
    {"data":{"values":[{"t":"<N"}]},"mark":{"type":"text"},"encoding":{"x":{"datum":97.6,"type":"quantitative","axis":null},"y":{"datum":0.107,"type":"quantitative","axis":null},"text":{"field":"t"}}},
    {"data":{"values":[{"t":"hits"}]},"mark":{"type":"text","fontSize":7.5,"dx":13.45,"dy":3.5},"encoding":{"x":{"datum":97.6,"type":"quantitative","axis":null},"y":{"datum":0.107,"type":"quantitative","axis":null},"text":{"field":"t"}}},
    {"data":{"values":[{"t":">"}]},"mark":{"type":"text","dx":25.1},"encoding":{"x":{"datum":97.6,"type":"quantitative","axis":null},"y":{"datum":0.107,"type":"quantitative","axis":null},"text":{"field":"t"}}},
    {"data":{"values":[{"t":"data"}]},"mark":{"type":"text","fontSize":7.5,"dx":31.1,"dy":3.5},"encoding":{"x":{"datum":97.6,"type":"quantitative","axis":null},"y":{"datum":0.107,"type":"quantitative","axis":null},"text":{"field":"t"}}},
    {"data":{"values":[{"t":"= (67.30 ± 0.70) hits"}]},"mark":{"type":"text","dx":48.6},"encoding":{"x":{"datum":97.6,"type":"quantitative","axis":null},"y":{"datum":0.107,"type":"quantitative","axis":null},"text":{"field":"t"}}},
    {"data":{"values":[{"t":"σ"}]},"mark":{"type":"text"},"encoding":{"x":{"datum":97.6,"type":"quantitative","axis":null},"y":{"datum":0.0945,"type":"quantitative","axis":null},"text":{"field":"t"}}},
    {"data":{"values":[{"t":"data"}]},"mark":{"type":"text","fontSize":7.5,"dx":6.2,"dy":3.5},"encoding":{"x":{"datum":97.6,"type":"quantitative","axis":null},"y":{"datum":0.0945,"type":"quantitative","axis":null},"text":{"field":"t"}}},
    {"data":{"values":[{"t":"= (17.38 ± 0.54) hits"}]},"mark":{"type":"text","dx":23.7},"encoding":{"x":{"datum":97.6,"type":"quantitative","axis":null},"y":{"datum":0.0945,"type":"quantitative","axis":null},"text":{"field":"t"}}},
    {"data":{"values":[{"t":"<N"}]},"mark":{"type":"text"},"encoding":{"x":{"datum":97.6,"type":"quantitative","axis":null},"y":{"datum":0.0808,"type":"quantitative","axis":null},"text":{"field":"t"}}},
    {"data":{"values":[{"t":"hits"}]},"mark":{"type":"text","fontSize":7.5,"dx":13.45,"dy":3.5},"encoding":{"x":{"datum":97.6,"type":"quantitative","axis":null},"y":{"datum":0.0808,"type":"quantitative","axis":null},"text":{"field":"t"}}},
    {"data":{"values":[{"t":">"}]},"mark":{"type":"text","dx":25.1},"encoding":{"x":{"datum":97.6,"type":"quantitative","axis":null},"y":{"datum":0.0808,"type":"quantitative","axis":null},"text":{"field":"t"}}},
    {"data":{"values":[{"t":"MC"}]},"mark":{"type":"text","fontSize":7.5,"dx":31.1,"dy":3.5},"encoding":{"x":{"datum":97.6,"type":"quantitative","axis":null},"y":{"datum":0.0808,"type":"quantitative","axis":null},"text":{"field":"t"}}},
    {"data":{"values":[{"t":"= (64.32 ± 1.21) hits"}]},"mark":{"type":"text","dx":45.7},"encoding":{"x":{"datum":97.6,"type":"quantitative","axis":null},"y":{"datum":0.0808,"type":"quantitative","axis":null},"text":{"field":"t"}}},
    {"data":{"values":[{"t":"σ"}]},"mark":{"type":"text"},"encoding":{"x":{"datum":97.6,"type":"quantitative","axis":null},"y":{"datum":0.0664,"type":"quantitative","axis":null},"text":{"field":"t"}}},
    {"data":{"values":[{"t":"MC"}]},"mark":{"type":"text","fontSize":7.5,"dx":6.2,"dy":3.5},"encoding":{"x":{"datum":97.6,"type":"quantitative","axis":null},"y":{"datum":0.0664,"type":"quantitative","axis":null},"text":{"field":"t"}}},
    {"data":{"values":[{"t":"= (15.66 ± 0.94) hits"}]},"mark":{"type":"text","dx":20.8},"encoding":{"x":{"datum":97.6,"type":"quantitative","axis":null},"y":{"datum":0.0664,"type":"quantitative","axis":null},"text":{"field":"t"}}}
   ]},
  {"width":441,"height":95,"resolve":{"axis":{"x":"independent","y":"independent"}},
   "title":{"text":"(a) 4 GeV π⁻","orient":"bottom","anchor":"middle","frame":"group","offset":16},
   "layer":[
    {"data":{"name":"aRat"},"mark":{"type":"errorbar","color":"#111","thickness":1.2},"encoding":{"x":{"field":"x","type":"quantitative","axis":null},"y":{"field":"r","type":"quantitative","axis":null},"yError":{"field":"e"}}},
    {"data":{"name":"aRat"},"mark":{"type":"tick","orient":"horizontal","size":11.6,"thickness":1.2,"color":"#111"},"encoding":{"x":{"field":"x","type":"quantitative","axis":{"orient":"top","values":[0,4,8,12,16,20,24,28,32,36,40,44,48,52,56,60,64,68,72,76,80,84,88,92,96,100,104,108,112,116,120,124,128,132,136,140,144,148],"labels":false,"title":null,"tickSize":{"condition":{"test":"datum.value % 20 === 0","value":-6},"value":-3}}},"y":{"field":"r","type":"quantitative","axis":{"orient":"right","tickCount":88,"labels":false,"title":null,"tickSize":{"condition":{"test":"abs(datum.value*2-round(datum.value*2))<0.01","value":-6},"value":-3}}}}},
    {"data":{"name":"aRat"},"mark":{"type":"point","shape":"circle","filled":true,"color":"#000","size":32,"opacity":1},"encoding":{
      "x":{"field":"x","type":"quantitative","scale":{"domain":[0,150],"nice":false,"zero":false},"axis":{"orient":"bottom","values":[0,4,8,12,16,20,24,28,32,36,40,44,48,52,56,60,64,68,72,76,80,84,88,92,96,100,104,108,112,116,120,124,128,132,136,140,144,148],"tickSize":{"condition":{"test":"datum.value % 20 === 0","value":-6},"value":-3},"labelExpr":"datum.value % 20 === 0 ? format(datum.value,'~g') : ''","labelPadding":9.7,"title":"Nₕᵢₜₛ","titleFontSize":9,"titleAnchor":"end","titlePadding":3}},
      "y":{"field":"r","type":"quantitative","scale":{"domain":[-0.27,4.12],"nice":false,"zero":false},"axis":{"orient":"left","tickCount":88,"tickSize":{"condition":{"test":"abs(datum.value*2-round(datum.value*2))<0.01","value":-6},"value":-3},"labelExpr":"abs(datum.value*2-round(datum.value*2))<0.01 ? format(datum.value,'~g') : ''","labelFontSize":8.3,"labelPadding":20,"grid":true,"gridDash":[1,2],"gridWidth":1,"gridColor":{"condition":{"test":"abs(datum.value*2-round(datum.value*2))<0.01","value":"#666"},"value":"rgba(0,0,0,0)"},"title":"Data / MonteCarlo","titleFontSize":8.8,"titleAnchor":"end","titlePadding":5}}}}
   ]}
 ],"spacing":3,"bounds":"flush"},
 {"vconcat":[
  {"width":439,"height":221,"resolve":{"axis":{"x":"independent","y":"independent"}},
   "layer":[
    {"data":{"name":"bPts"},"transform":[{"filter":"datum.s === 'Data'"}],"mark":{"type":"errorbar","color":"#3a3af0","opacity":0.7,"thickness":1.5},"encoding":{"x":{"field":"x","type":"quantitative","axis":null},"y":{"field":"y","type":"quantitative","axis":null},"yError":{"field":"e"}}},
    {"data":{"name":"bPts"},"transform":[{"filter":"datum.s === 'MC'"}],"mark":{"type":"errorbar","color":"#e03030","opacity":0.6,"thickness":1.5},"encoding":{"x":{"field":"x","type":"quantitative","axis":null},"y":{"field":"y","type":"quantitative","axis":null},"yError":{"field":"e"}}},
    {"data":{"name":"bPts"},"transform":[{"filter":"datum.s === 'Data'"}],"mark":{"type":"tick","orient":"horizontal","size":8.9,"thickness":1.5,"color":"#3a3af0","opacity":0.8},"encoding":{"x":{"field":"x","type":"quantitative","axis":null},"y":{"field":"y","type":"quantitative","axis":null}}},
    {"data":{"name":"bPts"},"transform":[{"filter":"datum.s === 'MC'"}],"mark":{"type":"tick","orient":"horizontal","size":8.9,"thickness":1.5,"color":"#e03030","opacity":0.7},"encoding":{"x":{"field":"x","type":"quantitative","axis":null},"y":{"field":"y","type":"quantitative","axis":null}}},
    {"data":{"name":"bFit"},"transform":[{"filter":"datum.s === 'MC'"}],"mark":{"type":"line","color":"#e3141c","strokeWidth":2,"interpolate":"monotone"},"encoding":{"x":{"field":"x","type":"quantitative","axis":{"orient":"top","values":[0,4,8,12,16,20,24,28,32,36,40,44,48,52,56,60,64,68,72,76,80,84,88,92,96,100,104,108,112,116,120,124,128,132,136,140,144,148,152,156,160,164,168,172,176,180,184,188,192,196],"labels":false,"title":null,"tickSize":{"condition":{"test":"datum.value % 20 === 0","value":-8},"value":-4}}},"y":{"field":"y","type":"quantitative","axis":{"orient":"right","values":[-0.002,0,0.002,0.004,0.006,0.008,0.01,0.012,0.014,0.016,0.018,0.02,0.022,0.024,0.026,0.028,0.03,0.032,0.034,0.036,0.038,0.04,0.042,0.044,0.046,0.048,0.05,0.052,0.054,0.056,0.058,0.06,0.062,0.064,0.066,0.068,0.07,0.072,0.074,0.076,0.078],"labels":false,"title":null,"tickSize":{"condition":{"test":"abs(datum.value*100-round(datum.value*100))<0.01","value":-8},"value":-4}}}}},
    {"data":{"name":"bFit"},"transform":[{"filter":"datum.s === 'Data'"}],"mark":{"type":"line","color":"#1a1ae0","strokeWidth":2,"interpolate":"monotone"},"encoding":{"x":{"field":"x","type":"quantitative","axis":null},"y":{"field":"y","type":"quantitative","axis":null}}},
    {"data":{"name":"bPts"},"mark":{"type":"point","filled":true,"opacity":1},"encoding":{
      "x":{"field":"x","type":"quantitative","scale":{"domain":[0,200],"nice":false,"zero":false},"axis":{"orient":"bottom","values":[0,4,8,12,16,20,24,28,32,36,40,44,48,52,56,60,64,68,72,76,80,84,88,92,96,100,104,108,112,116,120,124,128,132,136,140,144,148,152,156,160,164,168,172,176,180,184,188,192,196],"labels":false,"title":null,"tickSize":{"condition":{"test":"datum.value % 20 === 0","value":-8},"value":-4}}},
      "y":{"field":"y","type":"quantitative","scale":{"domain":[-0.0033,0.0797],"nice":false,"zero":false},"axis":{"orient":"left","values":[-0.002,0,0.002,0.004,0.006,0.008,0.01,0.012,0.014,0.016,0.018,0.02,0.022,0.024,0.026,0.028,0.03,0.032,0.034,0.036,0.038,0.04,0.042,0.044,0.046,0.048,0.05,0.052,0.054,0.056,0.058,0.06,0.062,0.064,0.066,0.068,0.07,0.072,0.074,0.076,0.078],"tickSize":{"condition":{"test":"abs(datum.value*100-round(datum.value*100))<0.01","value":-8},"value":-4},"labelExpr":"abs(datum.value*100-round(datum.value*100))<0.01 ? format(datum.value,'~g') : ''","labelPadding":10.4,"title":"Normalized entries / 4 hits","titleFontSize":8.7,"titleAnchor":"end","titlePadding":12}},
      "size":{"field":"s","type":"ordinal","scale":{"domain":["Data","MC"],"range":[60,30]},"legend":null},
      "color":{"field":"s","type":"nominal","scale":{"domain":["Data","MC"],"range":["#1010f0","#ee1010"]},"legend":{"orient":"none","legendX":19.1,"legendY":17,"title":null,"symbolSize":70,"padding":0,"rowPadding":8.7,"labelOffset":5.8,"strokeColor":null,"fillColor":null}},
      "shape":{"field":"s","type":"nominal","scale":{"domain":["Data","MC"],"range":["square","triangle-up"]},"legend":{"orient":"none","legendX":19.1,"legendY":17,"title":null,"symbolSize":70,"padding":0,"rowPadding":8.7,"labelOffset":5.8,"strokeColor":null,"fillColor":null}}}},
    {"data":{"values":[{}]},"mark":{"type":"rect","fill":"white","stroke":"#222","strokeWidth":1},"encoding":{"x":{"datum":6.84,"type":"quantitative","axis":null},"x2":{"datum":39.9},"y":{"datum":0.0749,"type":"quantitative","axis":null},"y2":{"datum":0.0577}}},
    {"data":{"values":[{"t":"6 GeV π⁻"}]},"mark":{"type":"text"},"encoding":{"x":{"datum":130.4,"type":"quantitative","axis":null},"y":{"datum":0.0615,"type":"quantitative","axis":null},"text":{"field":"t"}}},
    {"data":{"values":[{"t":"<N"}]},"mark":{"type":"text"},"encoding":{"x":{"datum":130.4,"type":"quantitative","axis":null},"y":{"datum":0.0531,"type":"quantitative","axis":null},"text":{"field":"t"}}},
    {"data":{"values":[{"t":"hits"}]},"mark":{"type":"text","fontSize":7.5,"dx":13.45,"dy":3.5},"encoding":{"x":{"datum":130.4,"type":"quantitative","axis":null},"y":{"datum":0.0531,"type":"quantitative","axis":null},"text":{"field":"t"}}},
    {"data":{"values":[{"t":">"}]},"mark":{"type":"text","dx":25.1},"encoding":{"x":{"datum":130.4,"type":"quantitative","axis":null},"y":{"datum":0.0531,"type":"quantitative","axis":null},"text":{"field":"t"}}},
    {"data":{"values":[{"t":"data"}]},"mark":{"type":"text","fontSize":7.5,"dx":31.1,"dy":3.5},"encoding":{"x":{"datum":130.4,"type":"quantitative","axis":null},"y":{"datum":0.0531,"type":"quantitative","axis":null},"text":{"field":"t"}}},
    {"data":{"values":[{"t":"= (87.00 ± 0.48) hits"}]},"mark":{"type":"text","dx":48.6},"encoding":{"x":{"datum":130.4,"type":"quantitative","axis":null},"y":{"datum":0.0531,"type":"quantitative","axis":null},"text":{"field":"t"}}},
    {"data":{"values":[{"t":"σ"}]},"mark":{"type":"text"},"encoding":{"x":{"datum":130.4,"type":"quantitative","axis":null},"y":{"datum":0.0456,"type":"quantitative","axis":null},"text":{"field":"t"}}},
    {"data":{"values":[{"t":"data"}]},"mark":{"type":"text","fontSize":7.5,"dx":6.2,"dy":3.5},"encoding":{"x":{"datum":130.4,"type":"quantitative","axis":null},"y":{"datum":0.0456,"type":"quantitative","axis":null},"text":{"field":"t"}}},
    {"data":{"values":[{"t":"= (22.52 ± 0.34) hits"}]},"mark":{"type":"text","dx":23.7},"encoding":{"x":{"datum":130.4,"type":"quantitative","axis":null},"y":{"datum":0.0456,"type":"quantitative","axis":null},"text":{"field":"t"}}},
    {"data":{"values":[{"t":"<N"}]},"mark":{"type":"text"},"encoding":{"x":{"datum":130.4,"type":"quantitative","axis":null},"y":{"datum":0.0373,"type":"quantitative","axis":null},"text":{"field":"t"}}},
    {"data":{"values":[{"t":"hits"}]},"mark":{"type":"text","fontSize":7.5,"dx":13.45,"dy":3.5},"encoding":{"x":{"datum":130.4,"type":"quantitative","axis":null},"y":{"datum":0.0373,"type":"quantitative","axis":null},"text":{"field":"t"}}},
    {"data":{"values":[{"t":">"}]},"mark":{"type":"text","dx":25.1},"encoding":{"x":{"datum":130.4,"type":"quantitative","axis":null},"y":{"datum":0.0373,"type":"quantitative","axis":null},"text":{"field":"t"}}},
    {"data":{"values":[{"t":"MC"}]},"mark":{"type":"text","fontSize":7.5,"dx":31.1,"dy":3.5},"encoding":{"x":{"datum":130.4,"type":"quantitative","axis":null},"y":{"datum":0.0373,"type":"quantitative","axis":null},"text":{"field":"t"}}},
    {"data":{"values":[{"t":"= (82.39 ± 1.24) hits"}]},"mark":{"type":"text","dx":45.7},"encoding":{"x":{"datum":130.4,"type":"quantitative","axis":null},"y":{"datum":0.0373,"type":"quantitative","axis":null},"text":{"field":"t"}}},
    {"data":{"values":[{"t":"σ"}]},"mark":{"type":"text"},"encoding":{"x":{"datum":130.4,"type":"quantitative","axis":null},"y":{"datum":0.0298,"type":"quantitative","axis":null},"text":{"field":"t"}}},
    {"data":{"values":[{"t":"MC"}]},"mark":{"type":"text","fontSize":7.5,"dx":6.2,"dy":3.5},"encoding":{"x":{"datum":130.4,"type":"quantitative","axis":null},"y":{"datum":0.0298,"type":"quantitative","axis":null},"text":{"field":"t"}}},
    {"data":{"values":[{"t":"= (23.48 ± 0.97) hits"}]},"mark":{"type":"text","dx":20.8},"encoding":{"x":{"datum":130.4,"type":"quantitative","axis":null},"y":{"datum":0.0298,"type":"quantitative","axis":null},"text":{"field":"t"}}}
   ]},
  {"width":439,"height":94,"resolve":{"axis":{"x":"independent","y":"independent"}},
   "title":{"text":"(b) 6 GeV π⁻","orient":"bottom","anchor":"middle","frame":"group","offset":16},
   "layer":[
    {"data":{"name":"bRat"},"mark":{"type":"errorbar","color":"#111","thickness":1.2},"encoding":{"x":{"field":"x","type":"quantitative","axis":null},"y":{"field":"r","type":"quantitative","axis":null},"yError":{"field":"e"}}},
    {"data":{"name":"bRat"},"mark":{"type":"tick","orient":"horizontal","size":8.9,"thickness":1.2,"color":"#111"},"encoding":{"x":{"field":"x","type":"quantitative","axis":{"orient":"top","values":[0,4,8,12,16,20,24,28,32,36,40,44,48,52,56,60,64,68,72,76,80,84,88,92,96,100,104,108,112,116,120,124,128,132,136,140,144,148,152,156,160,164,168,172,176,180,184,188,192,196],"labels":false,"title":null,"tickSize":{"condition":{"test":"datum.value % 20 === 0","value":-6},"value":-3}}},"y":{"field":"r","type":"quantitative","axis":{"orient":"right","tickCount":89,"labels":false,"title":null,"tickSize":{"condition":{"test":"abs(datum.value-round(datum.value))<0.01","value":-6},"value":-3}}}}},
    {"data":{"name":"bRat"},"mark":{"type":"point","shape":"circle","filled":true,"color":"#000","size":32,"opacity":1},"encoding":{
      "x":{"field":"x","type":"quantitative","scale":{"domain":[0,200],"nice":false,"zero":false},"axis":{"orient":"bottom","values":[0,4,8,12,16,20,24,28,32,36,40,44,48,52,56,60,64,68,72,76,80,84,88,92,96,100,104,108,112,116,120,124,128,132,136,140,144,148,152,156,160,164,168,172,176,180,184,188,192,196,200],"tickSize":{"condition":{"test":"datum.value % 20 === 0","value":-6},"value":-3},"labelExpr":"datum.value % 20 === 0 ? format(datum.value,'~g') : ''","labelAlign":{"condition":{"test":"datum.value === 200","value":"right"},"value":"center"},"labelPadding":9.7,"title":"Nₕᵢₜₛ","titleFontSize":9,"titleAnchor":"end","titlePadding":3}},
      "y":{"field":"r","type":"quantitative","scale":{"domain":[-0.35,8.57],"nice":false,"zero":false},"axis":{"orient":"left","tickCount":89,"tickSize":{"condition":{"test":"abs(datum.value-round(datum.value))<0.01","value":-6},"value":-3},"labelExpr":"abs(datum.value-round(datum.value))<0.01 ? format(datum.value,'~g') : ''","labelFontSize":8.3,"labelPadding":11,"grid":true,"gridDash":[1,2],"gridWidth":1,"gridColor":{"condition":{"test":"abs(datum.value-round(datum.value))<0.01","value":"#666"},"value":"rgba(0,0,0,0)"},"title":"Data / MonteCarlo","titleFontSize":8.8,"titleAnchor":"end","titlePadding":20}}}}
   ]}
 ],"spacing":9,"bounds":"flush"}
],"columns":2,"align":"none","spacing":69.5},
{"resolve":{"scale":{"color":"independent","shape":"independent","size":"independent"}},
 "concat":[
 {"width":236,"height":10,"data":{"values":[]},"mark":"point","view":{"stroke":null}},
 {"vconcat":[
  {"width":436,"height":221,"resolve":{"axis":{"x":"independent","y":"independent"}},
   "layer":[
    {"data":{"name":"cPts"},"transform":[{"filter":"datum.s === 'Data'"}],"mark":{"type":"errorbar","color":"#4a4ae8","opacity":0.65,"thickness":1.5},"encoding":{"x":{"field":"x","type":"quantitative","axis":null},"y":{"field":"y","type":"quantitative","axis":null},"yError":{"field":"e"}}},
    {"data":{"name":"cPts"},"transform":[{"filter":"datum.s === 'MC'"}],"mark":{"type":"errorbar","color":"#d84848","opacity":0.55,"thickness":1.5},"encoding":{"x":{"field":"x","type":"quantitative","axis":null},"y":{"field":"y","type":"quantitative","axis":null},"yError":{"field":"e"}}},
    {"data":{"name":"cFit"},"transform":[{"filter":"datum.s === 'MC'"}],"mark":{"type":"line","color":"#e3141c","strokeWidth":2,"interpolate":"monotone"},"encoding":{"x":{"field":"x","type":"quantitative","axis":{"orient":"top","values":[0,10,20,30,40,50,60,70,80,90,100,110,120,130,140,150,160,170,180,190,200,210,220,230,240],"labels":false,"title":null,"tickSize":{"condition":{"test":"datum.value % 50 === 0","value":-8},"value":-4}}},"y":{"field":"y","type":"quantitative","axis":{"orient":"right","values":[0,0.002,0.004,0.006,0.008,0.01,0.012,0.014,0.016,0.018,0.02,0.022,0.024,0.026,0.028,0.03,0.032,0.034,0.036,0.038,0.04,0.042,0.044,0.046,0.048,0.05,0.052,0.054,0.056,0.058,0.06,0.062,0.064,0.066,0.068,0.07,0.072],"labels":false,"title":null,"tickSize":{"condition":{"test":"abs(datum.value*100-round(datum.value*100))<0.01","value":-8},"value":-4}}}}},
    {"data":{"name":"cFit"},"transform":[{"filter":"datum.s === 'Data'"}],"mark":{"type":"line","color":"#1a1ae0","strokeWidth":2,"interpolate":"monotone"},"encoding":{"x":{"field":"x","type":"quantitative","axis":null},"y":{"field":"y","type":"quantitative","axis":null}}},
    {"data":{"name":"cPts"},"mark":{"type":"point","filled":true,"opacity":1},"encoding":{
      "x":{"field":"x","type":"quantitative","scale":{"domain":[0,250],"nice":false,"zero":false},"axis":{"orient":"bottom","values":[0,10,20,30,40,50,60,70,80,90,100,110,120,130,140,150,160,170,180,190,200,210,220,230,240],"labels":false,"title":null,"tickSize":{"condition":{"test":"datum.value % 50 === 0","value":-8},"value":-4}}},
      "y":{"field":"y","type":"quantitative","scale":{"domain":[0,0.074],"nice":false,"zero":false},"axis":{"orient":"left","values":[0,0.002,0.004,0.006,0.008,0.01,0.012,0.014,0.016,0.018,0.02,0.022,0.024,0.026,0.028,0.03,0.032,0.034,0.036,0.038,0.04,0.042,0.044,0.046,0.048,0.05,0.052,0.054,0.056,0.058,0.06,0.062,0.064,0.066,0.068,0.07,0.072],"tickSize":{"condition":{"test":"abs(datum.value*100-round(datum.value*100))<0.01","value":-8},"value":-4},"labelExpr":"abs(datum.value*100-round(datum.value*100))<0.01 ? format(datum.value,'~g') : ''","labelPadding":10.3,"title":"Normalized entries / 3 hits","titleFontSize":8.7,"titleAnchor":"end","titlePadding":11.4}},
      "size":{"field":"s","type":"ordinal","scale":{"domain":["Data","MC"],"range":[30,30]},"legend":null},
      "color":{"field":"s","type":"nominal","scale":{"domain":["Data","MC"],"range":["#1010f0","#ee1010"]},"legend":{"orient":"none","legendX":21.8,"legendY":17,"title":null,"symbolSize":70,"padding":0,"rowPadding":8.7,"labelOffset":7.8,"strokeColor":null,"fillColor":null}},
      "shape":{"field":"s","type":"nominal","scale":{"domain":["Data","MC"],"range":["square","M0,-1L0.2245,-0.309L0.9511,-0.309L0.3633,0.118L0.5878,0.809L0,0.382L-0.5878,0.809L-0.3633,0.118L-0.9511,-0.309L-0.2245,-0.309Z"]},"legend":{"orient":"none","legendX":21.8,"legendY":17,"title":null,"symbolSize":70,"padding":0,"rowPadding":8.7,"labelOffset":7.8,"strokeColor":null,"fillColor":null}}}},
    {"data":{"values":[{}]},"mark":{"type":"rect","fill":"white","stroke":"#222","strokeWidth":1},"encoding":{"x":{"datum":10.1,"type":"quantitative","axis":null},"x2":{"datum":56.0},"y":{"datum":0.0697,"type":"quantitative","axis":null},"y2":{"datum":0.0544}}},
    {"data":{"values":[{"t":"8 GeV π⁻"}]},"mark":{"type":"text"},"encoding":{"x":{"datum":161.1,"type":"quantitative","axis":null},"y":{"datum":0.0611,"type":"quantitative","axis":null},"text":{"field":"t"}}},
    {"data":{"values":[{"t":"<N"}]},"mark":{"type":"text"},"encoding":{"x":{"datum":161.1,"type":"quantitative","axis":null},"y":{"datum":0.0561,"type":"quantitative","axis":null},"text":{"field":"t"}}},
    {"data":{"values":[{"t":"hits"}]},"mark":{"type":"text","fontSize":7.5,"dx":13.45,"dy":3.5},"encoding":{"x":{"datum":161.1,"type":"quantitative","axis":null},"y":{"datum":0.0561,"type":"quantitative","axis":null},"text":{"field":"t"}}},
    {"data":{"values":[{"t":">"}]},"mark":{"type":"text","dx":25.1},"encoding":{"x":{"datum":161.1,"type":"quantitative","axis":null},"y":{"datum":0.0561,"type":"quantitative","axis":null},"text":{"field":"t"}}},
    {"data":{"values":[{"t":"data"}]},"mark":{"type":"text","fontSize":7.5,"dx":31.1,"dy":3.5},"encoding":{"x":{"datum":161.1,"type":"quantitative","axis":null},"y":{"datum":0.0561,"type":"quantitative","axis":null},"text":{"field":"t"}}},
    {"data":{"values":[{"t":"= (93.25 ± 0.46) hits"}]},"mark":{"type":"text","dx":48.6},"encoding":{"x":{"datum":161.1,"type":"quantitative","axis":null},"y":{"datum":0.0561,"type":"quantitative","axis":null},"text":{"field":"t"}}},
    {"data":{"values":[{"t":"σ"}]},"mark":{"type":"text"},"encoding":{"x":{"datum":161.1,"type":"quantitative","axis":null},"y":{"datum":0.051,"type":"quantitative","axis":null},"text":{"field":"t"}}},
    {"data":{"values":[{"t":"data"}]},"mark":{"type":"text","fontSize":7.5,"dx":6.2,"dy":3.5},"encoding":{"x":{"datum":161.1,"type":"quantitative","axis":null},"y":{"datum":0.051,"type":"quantitative","axis":null},"text":{"field":"t"}}},
    {"data":{"values":[{"t":"= (23.74 ± 0.33) hits"}]},"mark":{"type":"text","dx":23.7},"encoding":{"x":{"datum":161.1,"type":"quantitative","axis":null},"y":{"datum":0.051,"type":"quantitative","axis":null},"text":{"field":"t"}}},
    {"data":{"values":[{"t":"<N"}]},"mark":{"type":"text"},"encoding":{"x":{"datum":161.1,"type":"quantitative","axis":null},"y":{"datum":0.0462,"type":"quantitative","axis":null},"text":{"field":"t"}}},
    {"data":{"values":[{"t":"hits"}]},"mark":{"type":"text","fontSize":7.5,"dx":13.45,"dy":3.5},"encoding":{"x":{"datum":161.1,"type":"quantitative","axis":null},"y":{"datum":0.0462,"type":"quantitative","axis":null},"text":{"field":"t"}}},
    {"data":{"values":[{"t":">"}]},"mark":{"type":"text","dx":25.1},"encoding":{"x":{"datum":161.1,"type":"quantitative","axis":null},"y":{"datum":0.0462,"type":"quantitative","axis":null},"text":{"field":"t"}}},
    {"data":{"values":[{"t":"MC"}]},"mark":{"type":"text","fontSize":7.5,"dx":31.1,"dy":3.5},"encoding":{"x":{"datum":161.1,"type":"quantitative","axis":null},"y":{"datum":0.0462,"type":"quantitative","axis":null},"text":{"field":"t"}}},
    {"data":{"values":[{"t":"= (92.75 ± 1.43) hits"}]},"mark":{"type":"text","dx":45.7},"encoding":{"x":{"datum":161.1,"type":"quantitative","axis":null},"y":{"datum":0.0462,"type":"quantitative","axis":null},"text":{"field":"t"}}},
    {"data":{"values":[{"t":"σ"}]},"mark":{"type":"text"},"encoding":{"x":{"datum":161.1,"type":"quantitative","axis":null},"y":{"datum":0.0412,"type":"quantitative","axis":null},"text":{"field":"t"}}},
    {"data":{"values":[{"t":"MC"}]},"mark":{"type":"text","fontSize":7.5,"dx":6.2,"dy":3.5},"encoding":{"x":{"datum":161.1,"type":"quantitative","axis":null},"y":{"datum":0.0412,"type":"quantitative","axis":null},"text":{"field":"t"}}},
    {"data":{"values":[{"t":"= (28.44 ± 1.35) hits"}]},"mark":{"type":"text","dx":20.8},"encoding":{"x":{"datum":161.1,"type":"quantitative","axis":null},"y":{"datum":0.0412,"type":"quantitative","axis":null},"text":{"field":"t"}}}
   ]},
  {"width":436,"height":93,"resolve":{"axis":{"x":"independent","y":"independent"}},
   "title":{"text":"(c) 8 GeV π⁻","orient":"bottom","anchor":"middle","frame":"group","offset":37,"dx":-22},
   "layer":[
    {"data":{"name":"cRat"},"mark":{"type":"errorbar","color":"#111","thickness":1.2},"encoding":{"x":{"field":"x","type":"quantitative","axis":null},"y":{"field":"r","type":"quantitative","axis":null},"yError":{"field":"e"}}},
    {"data":{"name":"cRat"},"mark":{"type":"tick","orient":"horizontal","size":5.5,"thickness":1.2,"color":"#111"},"encoding":{"x":{"field":"x","type":"quantitative","axis":{"orient":"top","values":[0,10,20,30,40,50,60,70,80,90,100,110,120,130,140,150,160,170,180,190,200,210,220,230,240],"labels":false,"title":null,"tickSize":{"condition":{"test":"datum.value % 50 === 0","value":-6},"value":-3}}},"y":{"field":"r","type":"quantitative","axis":{"orient":"right","tickCount":84,"labels":false,"title":null,"tickSize":{"condition":{"test":"abs(datum.value*2-round(datum.value*2))<0.01","value":-6},"value":-3}}}}},
    {"data":{"name":"cRat"},"mark":{"type":"point","shape":"circle","filled":true,"color":"#000","size":30,"opacity":1},"encoding":{
      "x":{"field":"x","type":"quantitative","scale":{"domain":[0,250],"nice":false,"zero":false},"axis":{"orient":"bottom","values":[0,10,20,30,40,50,60,70,80,90,100,110,120,130,140,150,160,170,180,190,200,210,220,230,240,250],"tickSize":{"condition":{"test":"datum.value % 50 === 0","value":-6},"value":-3},"labelExpr":"datum.value % 50 === 0 ? format(datum.value,'~g') : ''","labelPadding":9.7,"title":"Nₕᵢₜₛ","titleFontSize":9,"titleAnchor":"end","titlePadding":3}},
      "y":{"field":"r","type":"quantitative","scale":{"domain":[-0.255,3.95],"nice":false,"zero":false},"axis":{"orient":"left","tickCount":84,"tickSize":{"condition":{"test":"abs(datum.value*2-round(datum.value*2))<0.01","value":-6},"value":-3},"labelExpr":"abs(datum.value*2-round(datum.value*2))<0.01 ? format(datum.value,'~g') : ''","labelFontSize":8.3,"labelPadding":9,"grid":true,"gridDash":[1,2],"gridWidth":1,"gridColor":{"condition":{"test":"abs(datum.value*2-round(datum.value*2))<0.01","value":"#666"},"value":"rgba(0,0,0,0)"},"title":"Data / MonteCarlo","titleFontSize":8.8,"titleAnchor":"end","titlePadding":17}}}}
   ]}
 ],"spacing":9,"bounds":"flush"}
],"columns":2,"align":"none","spacing":0}
],
"columns":1,"align":"none","spacing":59
}
